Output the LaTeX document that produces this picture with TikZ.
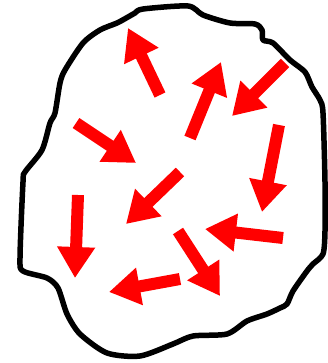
\documentclass[tikz,border=0pt]{standalone}
\usetikzlibrary{arrows.meta}

\begin{document}
\begin{tikzpicture}[x=1pt,y=-1pt,
  outline/.style={line width=5.5pt,line join=round},
  push/.style={red,line width=12pt,-{Triangle[length=31pt,width=36pt]}}
]
\useasboundingbox (0,0) rectangle (328,363);
\draw[outline] plot[smooth cycle,tension=0.45] coordinates {
  (188,6) (203,15) (230,23) (255,24) (262,30) (263,40) (273,43) (290,60)
  (305,72) (312,87) (320,100) (323,113) (325,182) (325,231) (323,254)
  (313,264) (307,271) (293,291) (287,304) (280,308) (267,314) (247,321)
  (227,334) (193,336) (173,344) (140,356) (107,353) (80,334) (67,314)
  (58,288) (47,278) (23,271) (20,258) (23,182) (25,172) (42,150) (50,123)
  (55,113) (60,83) (65,70) (83,43) (100,30) (117,23) (128,17) (135,13)
  (143,9)};

\draw[push] (160,95) -- (128,28);
\draw[push] (190,138) -- (221,62);
\draw[push] (285,63) -- (232,116);
\draw[push] (76,123) -- (136,163);
\draw[push] (279,125) -- (262,212);
\draw[push] (180,172) -- (126,224);
\draw[push] (78,195) -- (75,278);
\draw[push] (283,238) -- (205,229);
\draw[push] (178,231) -- (220,296);
\draw[push] (180,279) -- (109,292);
\end{tikzpicture}
\end{document}
